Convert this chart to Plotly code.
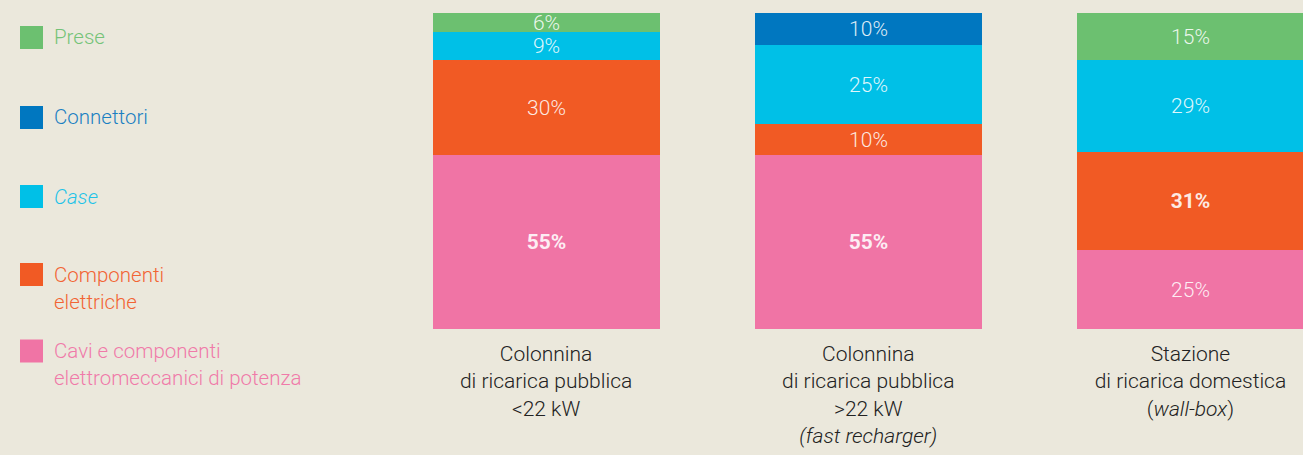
import plotly.graph_objects as go

# --- data -------------------------------------------------------------
categories = [
    "Colonnina<br>di ricarica pubblica<br>&lt;22 kW",
    "Colonnina<br>di ricarica pubblica<br>&gt;22 kW<br><i>(fast recharger)</i>",
    "Stazione<br>di ricarica domestica<br>(<i>wall-box</i>)",
]
cavi = [55, 55, 25]
componenti = [30, 10, 31]
case = [9, 25, 29]
connettori = [None, 10, None]
prese = [6, None, 15]

series_names = [
    "Cavi e componenti<br>elettromeccanici di potenza",
    "Componenti<br>elettriche",
    "<i>Case</i>",
    "Connettori",
    "Prese",
]

# --- style ------------------------------------------------------------
W, H = 1303, 455
BG = "#ebe8dc"
COLORS = ["#f074a5", "#f15a24", "#00c0e7", "#0077c0", "#6cc070"]
TEXT_COLORS = ["#f07aa9", "#f26434", "#1ec3e8", "#1a7fc2", "#74c378"]
FONT_FAMILY = "Roboto, Liberation Sans, sans-serif"

# plot area in pixels
L, R, T, B = 385, 0, 13, 126
PW, PH = W - L - R, H - T - B


def px(x):
    return (x - L) / PW


def py(y):
    return 1 - (y - T) / PH


stack = [cavi, componenti, case, connettori, prese]
totals = [[v for v in col if v is not None] for col in zip(*stack)]
biggest = [max(t) for t in totals]

fig = go.Figure()
for vals, color in zip(stack, COLORS):
    text = []
    for i, v in enumerate(vals):
        if v is None:
            text.append("")
        elif v == biggest[i]:
            text.append(f"<b>{v}%</b>")
        else:
            text.append(f"{v}%")
    fig.add_trace(
        go.Bar(
            x=categories, y=vals, marker=dict(color=color, line=dict(width=0)),
            width=0.705, text=text, textposition="inside",
            insidetextanchor="middle", textangle=0, constraintext="none",
            textfont=dict(family=FONT_FAMILY, size=21, color="rgba(255,255,255,0.88)",
                          weight=300),
            hoverinfo="skip", showlegend=False,
        )
    )

# hand-drawn legend on the left
legend_y = [351, 274.5, 196.5, 117.5, 37.5]
for name, color, tcolor, yc in zip(series_names, COLORS, TEXT_COLORS, legend_y):
    fig.add_shape(
        type="rect", xref="paper", yref="paper",
        x0=px(20), x1=px(43), y0=py(yc - 11.5), y1=py(yc + 11.5),
        fillcolor=color, line=dict(width=0),
    )
    fig.add_annotation(
        xref="paper", yref="paper", x=px(52), y=py(yc - 14),
        xanchor="left", yanchor="top", align="left", showarrow=False,
        text=name, font=dict(family=FONT_FAMILY, size=20.5, color=tcolor, weight=300),
    )

fig.update_layout(
    width=W, height=H,
    barmode="stack", bargap=0,
    paper_bgcolor=BG, plot_bgcolor=BG,
    margin=dict(l=L, r=R, t=T, b=B, pad=0),
    showlegend=False,
    font=dict(family=FONT_FAMILY, size=20, color="#222222"),
    xaxis=dict(
        range=[-0.5, (W - 546.5) / 322], showgrid=False,
        zeroline=False, showline=False, ticks="", ticklabelstandoff=10,
        tickfont=dict(family=FONT_FAMILY, size=21, color="#222222", weight=300),
        fixedrange=True,
    ),
    yaxis=dict(range=[0, 100], visible=False, fixedrange=True),
)

fig.write_html(
    "out.html",
    config=dict(displayModeBar=False),
    post_script="document.body.style.margin='0';document.body.style.background='%s';" % BG,
)
